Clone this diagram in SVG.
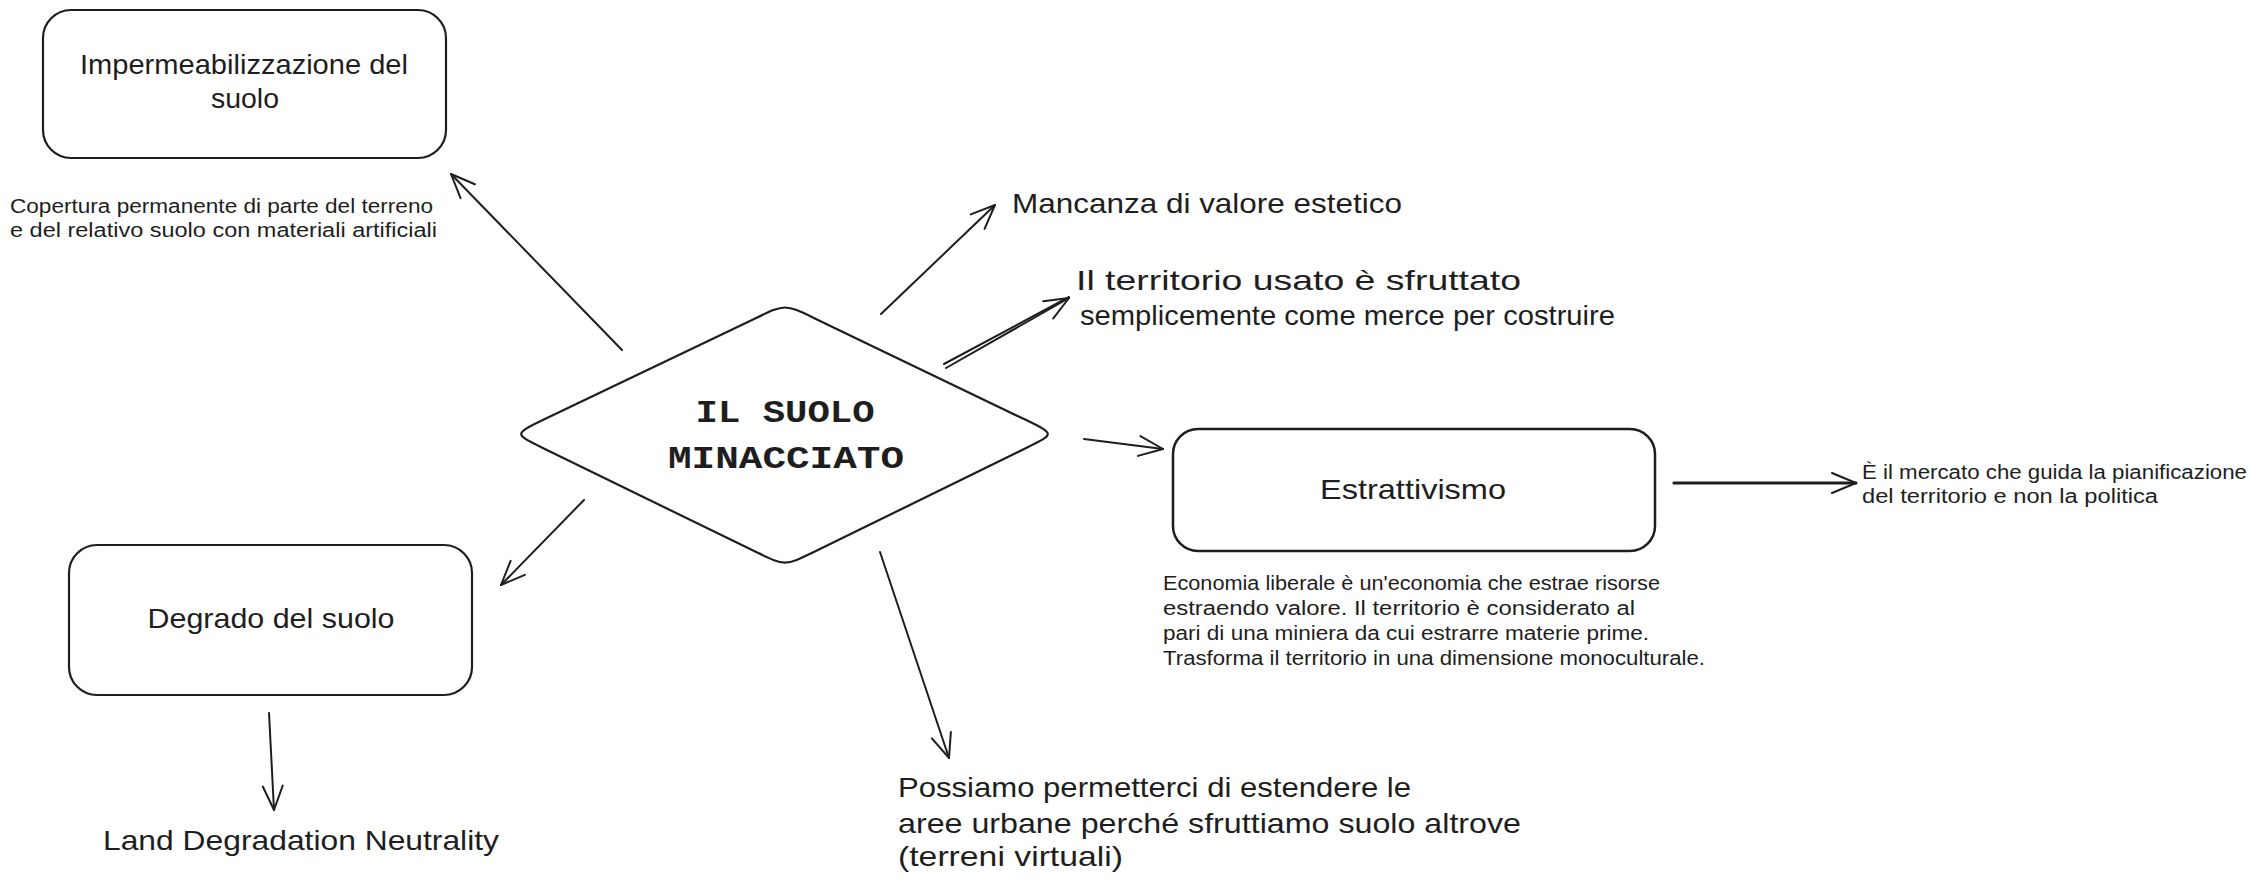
<svg xmlns="http://www.w3.org/2000/svg" width="2256" height="887" viewBox="0 0 2256 887">
  <style>
    .box { fill: #ffffff; stroke: #1e1e1e; stroke-width: 2.2; }
    .hand { font-family: "Liberation Sans", Arial, sans-serif; fill: #1e1e1e; }
    .t28 { font-size: 28px; }
    .t20 { font-size: 20px; }
    .mono { font-family: "Liberation Mono", "DejaVu Sans Mono", monospace; font-size: 32px; font-weight: bold; fill: #1e1e1e; }
    .conn { stroke: #1e1e1e; stroke-width: 2; fill: none; stroke-linecap: round; }
  </style>
  <defs>
    <marker id="arrow" markerUnits="userSpaceOnUse" markerWidth="40" markerHeight="40" viewBox="-30 -20 40 40" refX="0" refY="0" orient="auto" overflow="visible">
      <path d="M-24,-10 L0,0 L-24,10" fill="none" stroke="#1e1e1e" stroke-width="2" stroke-linecap="round" stroke-linejoin="round"/>
    </marker>
  </defs>
  <rect width="2256" height="887" fill="#ffffff"/>

  <g id="connectors">
    <line class="conn" x1="622" y1="350" x2="451" y2="174" marker-end="url(#arrow)"/>
    <line class="conn" x1="881" y1="314" x2="995" y2="205" marker-end="url(#arrow)"/>
    <line class="conn" x1="944" y1="364" x2="1069" y2="297"/>
    <line class="conn" x1="946" y1="368" x2="1069" y2="298" marker-end="url(#arrow)"/>
    <line class="conn" x1="1084" y1="439" x2="1163" y2="449" marker-end="url(#arrow)"/>
    <line class="conn" x1="584" y1="500" x2="501" y2="585" marker-end="url(#arrow)"/>
    <line class="conn" x1="880" y1="552" x2="949" y2="758" marker-end="url(#arrow)"/>
    <line class="conn" x1="269" y1="713" x2="274" y2="810" marker-end="url(#arrow)"/>
    <line class="conn" x1="1674" y1="483" x2="1856" y2="483" style="stroke-width:3.2" marker-end="url(#arrow)"/>
  </g>

  <g id="node-impermeabilizzazione">
    <rect class="box" x="43" y="10" width="403" height="148" rx="28" ry="28"/>
    <text class="hand t28" x="244" y="74" text-anchor="middle" textLength="328" lengthAdjust="spacingAndGlyphs">Impermeabilizzazione del</text>
    <text class="hand t28" x="245" y="108" text-anchor="middle" textLength="68" lengthAdjust="spacingAndGlyphs">suolo</text>
  </g>

  <g id="note-copertura">
    <text class="hand t20" x="10" y="213" textLength="423" lengthAdjust="spacingAndGlyphs">Copertura permanente di parte del terreno</text>
    <text class="hand t20" x="10" y="237" textLength="427" lengthAdjust="spacingAndGlyphs">e del relativo suolo con materiali artificiali</text>
  </g>

  <g id="node-suolo-minacciato">
    <path class="box" d="M756.2,317.9 C785,304 785,304 813.8,317.9 L1026.2,420.1 C1055,434 1055,434 1026.2,447.9 L813.8,552.1 C785,566 785,566 756.2,552.1 L542.8,447.9 C514,434 514,434 542.8,420.1 Z"/>
    <text class="mono" x="785" y="422" text-anchor="middle" textLength="179" lengthAdjust="spacingAndGlyphs">IL SUOLO</text>
    <text class="mono" x="786" y="468" text-anchor="middle" textLength="236" lengthAdjust="spacingAndGlyphs">MINACCIATO</text>
  </g>

  <g id="label-mancanza">
    <text class="hand t28" x="1012" y="213" textLength="390" lengthAdjust="spacingAndGlyphs">Mancanza di valore estetico</text>
  </g>

  <g id="label-territorio">
    <text class="hand t28" x="1076" y="290" textLength="445" lengthAdjust="spacingAndGlyphs">Il territorio usato è sfruttato</text>
    <text class="hand t28" x="1080" y="325" textLength="535" lengthAdjust="spacingAndGlyphs">semplicemente come merce per costruire</text>
  </g>

  <g id="node-estrattivismo">
    <rect class="box" x="1173" y="429" width="482" height="122" rx="25" ry="25" style="stroke-width:2.5"/>
    <text class="hand t28" x="1413" y="499" text-anchor="middle" textLength="186" lengthAdjust="spacingAndGlyphs">Estrattivismo</text>
  </g>

  <g id="label-mercato">
    <text class="hand t20" x="1862" y="479" textLength="385" lengthAdjust="spacingAndGlyphs">È il mercato che guida la pianificazione</text>
    <text class="hand t20" x="1862" y="503" textLength="296" lengthAdjust="spacingAndGlyphs">del territorio e non la politica</text>
  </g>

  <g id="note-economia">
    <text class="hand t20" x="1163" y="590" textLength="497" lengthAdjust="spacingAndGlyphs">Economia liberale è un'economia che estrae risorse</text>
    <text class="hand t20" x="1163" y="615" textLength="472" lengthAdjust="spacingAndGlyphs">estraendo valore. Il territorio è considerato al</text>
    <text class="hand t20" x="1163" y="640" textLength="486" lengthAdjust="spacingAndGlyphs">pari di una miniera da cui estrarre materie prime.</text>
    <text class="hand t20" x="1163" y="665" textLength="542" lengthAdjust="spacingAndGlyphs">Trasforma il territorio in una dimensione monoculturale.</text>
  </g>

  <g id="node-degrado">
    <rect class="box" x="69" y="545" width="403" height="150" rx="28" ry="28"/>
    <text class="hand t28" x="271" y="628" text-anchor="middle" textLength="247" lengthAdjust="spacingAndGlyphs">Degrado del suolo</text>
  </g>

  <g id="label-land">
    <text class="hand t28" x="103" y="850" textLength="396" lengthAdjust="spacingAndGlyphs">Land Degradation Neutrality</text>
  </g>

  <g id="label-possiamo">
    <text class="hand t28" x="898" y="797" textLength="513" lengthAdjust="spacingAndGlyphs">Possiamo permetterci di estendere le</text>
    <text class="hand t28" x="898" y="833" textLength="623" lengthAdjust="spacingAndGlyphs">aree urbane perché sfruttiamo suolo altrove</text>
    <text class="hand t28" x="898" y="866" textLength="225" lengthAdjust="spacingAndGlyphs">(terreni virtuali)</text>
  </g>
</svg>
